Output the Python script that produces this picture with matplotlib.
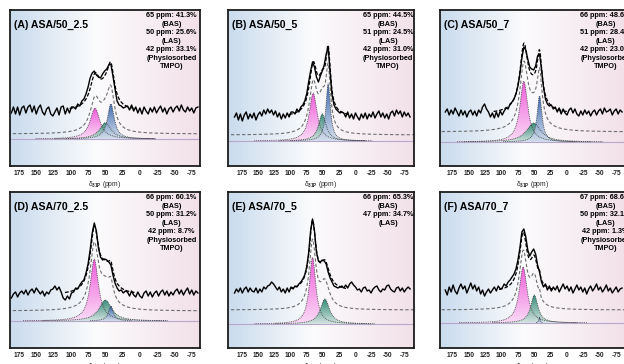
import numpy as np
import matplotlib
matplotlib.use('Agg')
import matplotlib.pyplot as plt
from matplotlib.patches import Polygon
from matplotlib import colors as mcolors

plt.rcParams['font.family'] = ['Liberation Sans', 'DejaVu Sans']
plt.rcParams['font.weight'] = 'bold'
plt.rcParams['axes.unicode_minus'] = False
plt.rcParams['mathtext.fontset'] = 'custom'
plt.rcParams['mathtext.rm'] = 'Liberation Sans:bold'
plt.rcParams['mathtext.it'] = 'Liberation Sans:bold'
plt.rcParams['mathtext.bf'] = 'Liberation Sans:bold'

# 31P shift axis of the recorded spectra (ppm), one point every 3 ppm
ppm = np.arange(186, -85, -3)

titles = ['(A) ASA/50_2.5', '(B) ASA/50_5', '(C) ASA/50_7',
          '(D) ASA/70_2.5', '(E) ASA/70_5', '(F) ASA/70_7']

# measured spectra (intensity above baseline)
exp_A = [-2, 4, -3, 4, -4, 3, 5, -2, 4, 6, -1, 5, -3, 3, 6, -1, -4, 2, 4, -3, -5, -1, 3, -4, 4, 5, -3, 3, -2, 4,
         4, 2, 7, 5, 10, 12, 17, 24, 33, 38, 40, 36, 34, 33, 37, 40, 42, 46, 47, 35, 22, 10, 6, 5, 3, 4,
         5, 1, 6, 0, 4, -2, 3, -3, 4, 0, -3, 3, -1, 4, -2, 2, 5, -1, 3, -3, 2, 4, -1, 3, 5, 0, 6, 1, -1, 4, 0, 3, -2, 3, 4]
exp_B = [0, 4, -3, 3, -4, 2, 5, -2, 3, -1, 4, -3, 2, 5, 1, 7, 3, 8, 4, 7, 2, 6, 0, 4, -2, 3, -1, 4, 0, 5,
         5, 3, 8, 5, 10, 12, 16, 23, 35, 46, 55, 50, 40, 35, 41, 46, 52, 63, 70, 45, 22, 12, 8, 6, 4, 5,
         4, 0, 5, -1, 3, -2, 4, 0, -3, 3, -1, 4, -2, 3, 0, 5, -1, 3, 6, 0, 4, -1, 3, -2, 4, 6, 1, 7, 3, 6, 0, 5, 1, 4, 0]
exp_C = [2, 5, -1, 4, 0, 6, 2, -2, 4, -1, 3, -3, 2, 4, -1, 3, -2, 4, 1, 7, 10, 5, 2, -3, 1, -4, 2, -3, 3, -1,
         3, 6, 5, 10, 12, 15, 20, 28, 40, 56, 67, 64, 55, 47, 45, 44, 48, 58, 60, 45, 27, 15, 10, 8, 9, 5,
         7, 2, 6, 0, 5, 1, -1, 4, 6, 1, 5, 0, -2, 3, -1, 4, 0, 3, -2, 2, 4, -1, 3, 5, 0, 6, 2, 3, 5, -1, 3, 5, 0, 4, 2]
exp_D = [-3, 1, 3, -2, 2, 4, 1, 5, 0, 4, 6, 2, 7, 4, 1, 4, -1, 3, 1, 5, 6, 9, 5, 8, 3, -3, -5, -1, -4, 2,
         3, 7, 6, 10, 13, 15, 22, 31, 45, 62, 72, 64, 47, 38, 35, 36, 35, 33, 30, 20, 12, 7, 4, 5, 2, 4,
         3, -1, 4, 0, -2, 3, -1, -3, 2, 4, -1, 3, -2, 2, 4, -1, 3, 5, 0, 4, -1, 3, 0, 4, 6, 1, 5, 0, 4, 7, 1, 5, 0, 4, 2]
exp_E = [-2, 2, -1, 3, -2, 2, 4, -1, 3, 0, -1, 3, -2, 2, -1, 4, 2, 5, 6, 9, 7, 4, 1, 4, -1, 2, -2, 3, -1, 4,
         2, 5, 4, 7, 9, 12, 16, 24, 38, 60, 72, 60, 39, 30, 29, 31, 30, 27, 19, 13, 9, 5, 4, 3, 4, 5,
         3, 6, 3, 7, 9, 6, 4, 1, 2, -1, 3, 4, 0, 1, -2, 2, 4, 5, 1, -1, 2, 1, 5, 6, 2, 0, -1, 3, 4, 0, 3, -1, 2, 4, 2]
exp_F = [2, -3, 5, 0, 7, 1, -2, 4, 8, 3, 6, -1, 4, 9, 3, 7, 1, 5, -2, 2, -4, 0, 3, -1, 2, 5, 1, 6, 3, 4,
         8, 6, 10, 12, 15, 18, 23, 32, 44, 60, 63, 55, 42, 36, 40, 43, 38, 27, 20, 10, 5, 8, 2, 6, 1, 5,
         2, 6, 0, 4, 8, 3, 6, 1, 5, -1, 3, 7, 2, 5, 0, 4, -2, 3, 6, 1, 4, 8, 2, 5, 0, 3, 7, 1, 4, -1, 2, 5, 0, 3, 4]

# deconvolution: peak position (ppm), share of area (%), FWHM (ppm)
centers_A, pct_A, fwhm_A = [65, 50, 42], [41.3, 25.6, 33.1], [17, 20, 12]
centers_B, pct_B, fwhm_B = [65, 51, 42], [44.5, 24.5, 31.0], [14.4, 14, 8.4]
centers_C, pct_C, fwhm_C = [66, 51, 42], [48.6, 28.4, 23.0], [14.4, 27, 9]
centers_D, pct_D, fwhm_D = [66, 50, 42], [60.1, 31.2, 8.7], [14.4, 22, 8.6]
centers_E, pct_E, fwhm_E = [66, 47], [65.3, 34.7], [12, 17]
centers_F, pct_F, fwhm_F = [67, 50, 42], [68.6, 32.1, 1.3], [14.4, 13.5, 2.55]
# total fitted area per sample (intensity x ppm / 100 %)
area_scale = [12.7, 15.5, 18.0, 14.8, 12.25, 11.76]
sites = ['BAS', 'LAS', 'Physiosorbed\nTMPO']

exps = [exp_A, exp_B, exp_C, exp_D, exp_E, exp_F]
centers = [centers_A, centers_B, centers_C, centers_D, centers_E, centers_F]
pcts = [pct_A, pct_B, pct_C, pct_D, pct_E, pct_F]
fwhms = [fwhm_A, fwhm_B, fwhm_C, fwhm_D, fwhm_E, fwhm_F]

comp_colors = ['#ee55d8', '#2f8672', '#3564ab']

# vertical offsets of the stacked traces: measured, fit sum, components
offsets = [(55, 32, 27), (49, 31, 25), (52, 34, 24),
           (53, 37, 27), (57, 38, 24), (56, 38, 25)]
col_left = [10, 228, 440]
col_width = [190, 186, 186]
col_xlim = [(188, -87), (196, -90), (194, -90)]
col_note_x = [0.85, 0.86, 0.89]
row_top = [10, 192]
H = 156


def lorentz(x, c, h, w):
    return h / (1 + (2 * (x - c) / w) ** 2)


def background(n=256):
    stops = np.array([0.0, 0.45, 1.0])
    cols = np.array([[0.79, 0.86, 0.93], [0.985, 0.985, 0.99], [0.95, 0.88, 0.91]])
    t = np.linspace(0, 1, n)
    rgb = np.stack([np.interp(t, stops, cols[:, k]) for k in range(3)], axis=-1)
    return rgb[None, :, :]


fig = plt.figure(figsize=(6.24, 3.64), dpi=100)
xf = np.linspace(200, -100, 1200)

for i in range(6):
    row, col = divmod(i, 3)
    left = col_left[col] / 624
    bottom = 1 - (row_top[row] + H) / 364
    ax = fig.add_axes([left, bottom, col_width[col] / 624, H / 364])
    x0, x1 = col_xlim[col]
    ax.imshow(background(), extent=[x0, x1, 0, H], aspect='auto',
              interpolation='bilinear', zorder=0)
    exp_off, env_off, comp_off = offsets[i]

    comps = [lorentz(xf, c, area_scale[i] * p / w, w)
             for c, p, w in zip(centers[i], pcts[i], fwhms[i])]
    total = np.sum(comps, axis=0)

    ax.axhline(comp_off, color='#b7a7cc', lw=0.8, zorder=1)
    ax.plot(xf, env_off + total, color='#6e6e6e', ls=(0, (3, 2)), lw=0.8, zorder=2)

    for comp, color in zip(comps, comp_colors):
        m = comp > 0.3
        xs, ys = xf[m], comp[m]
        verts = np.column_stack([np.r_[xs, xs[::-1]],
                                 np.r_[comp_off + ys, np.full(len(xs), comp_off)]])
        patch = Polygon(verts, closed=True, fc='none', ec='none')
        ax.add_patch(patch)
        rgb = np.array(mcolors.to_rgb(color))
        t = np.linspace(0.22, 1, 64)[:, None]
        img = np.concatenate([t * rgb + (1 - t) * 1.0, np.full((64, 1), 0.95)], axis=1)
        im = ax.imshow(img[:, None, :], extent=[xs.max(), xs.min(), comp_off, comp_off + ys.max()],
                       origin='lower', aspect='auto', zorder=3)
        im.set_clip_path(patch)
        ax.plot(xs, comp_off + ys, color='#3a3a3a', ls=(0, (1, 1.2)), lw=0.6, zorder=4)

    ax.plot(ppm, exp_off + np.array(exps[i]), color='k', lw=1.0, zorder=5)
    m = total > 2.5
    ax.plot(xf[m], exp_off + total[m], color='k', ls=(0, (3, 1.5)), lw=0.9, zorder=6)

    ax.text(0.022, 0.905, titles[i], transform=ax.transAxes, fontsize=7.6,
            fontweight='bold', ha='left', va='center', zorder=7)
    note = '\n'.join(f'{c} ppm: {p:.1f}%\n({s})'
                     for c, p, s in zip(centers[i], pcts[i], sites))
    ax.text(col_note_x[col], 0.985, note, transform=ax.transAxes, fontsize=5.2,
            fontweight='bold', ha='center', va='top', linespacing=1.3, zorder=7)

    ax.set_xlim(x0, x1)
    ax.set_ylim(0, H)
    ax.set_xticks(range(175, -76, -25))
    ax.set_yticks([])
    ax.tick_params(axis='x', length=0, pad=3, labelsize=4.8, colors='#222222')
    ax.set_xlabel('δ$_{31P}$ (ppm)', fontsize=4.8, labelpad=1.2, color='#222222')
    for s in ax.spines.values():
        s.set_linewidth(1.3)
        s.set_color('#1c1c1c')

fig.savefig('out.png', dpi=100)
